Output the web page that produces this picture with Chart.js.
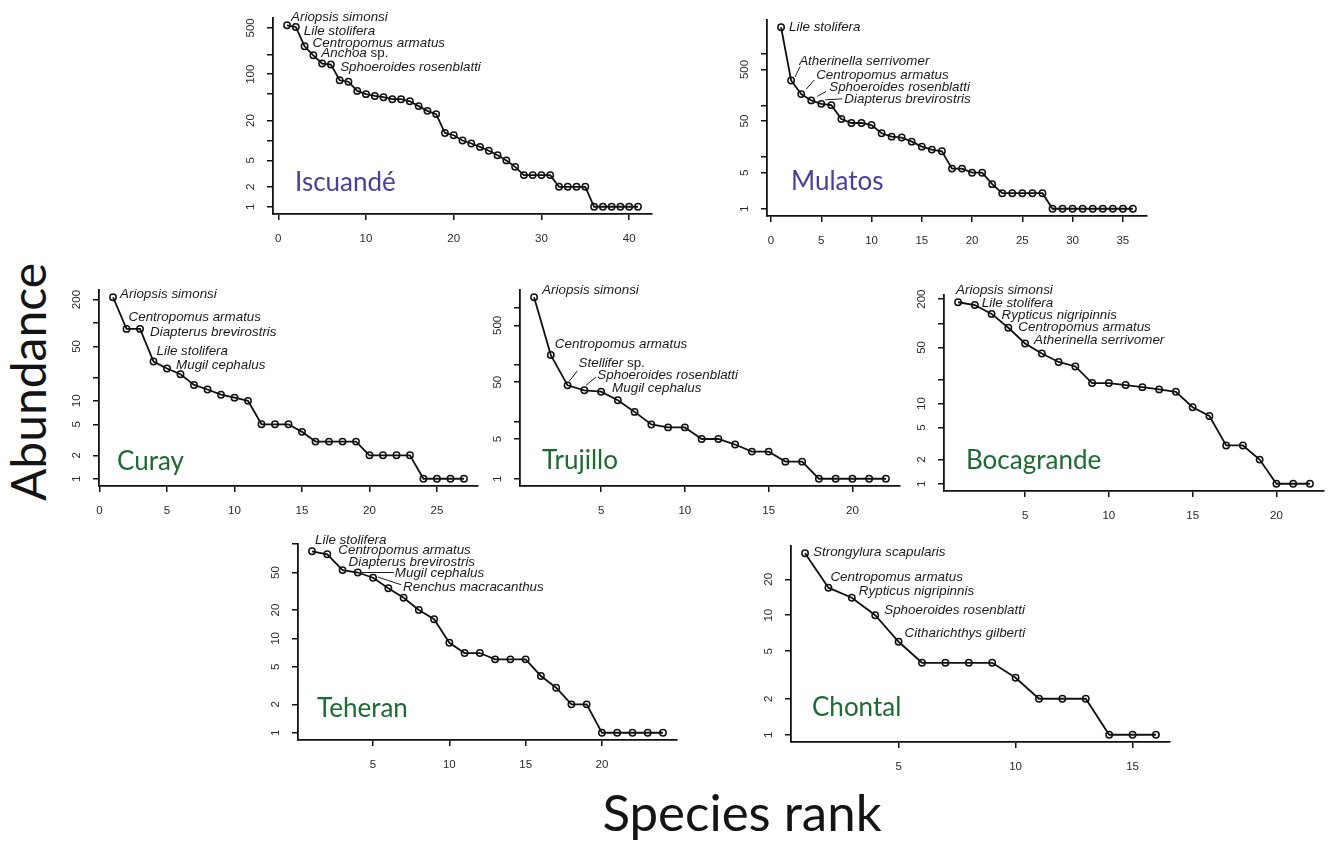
<!DOCTYPE html>
<html>
<head>
<meta charset="utf-8">
<script src="https://cdn.jsdelivr.net/npm/chart.js@4.4.1/dist/chart.umd.min.js"></script>
<style>
  html, body { margin: 0; padding: 0; background: #fff; }
  body { width: 1328px; height: 841px; position: relative; overflow: hidden; }
  canvas { position: absolute; }
  .big { position: absolute; font-family: Lato, "Open Sans", sans-serif; color: #141414; line-height: 1; white-space: nowrap; }
  #ylab { left: 28px; top: 382px; transform: translate(-50%, -50%) rotate(-90deg); }
  #xlab { left: 742px; top: 786px; transform: translateX(-50%); }
</style>
</head>
<body>
<div id="ylab" class="big">Abundance</div>
<div id="xlab" class="big">Species rank</div>
<script>
// ---------------- DATA ----------------
const siteNames = ['Iscuandé', 'Mulatos', 'Curay', 'Trujillo', 'Bocagrande', 'Teheran', 'Chontal'];

const iscuandeValues = [548,517,264,193,145,140,81,77,56,50,47,45,42,42,39,33,28,25,13,12,10,9,8,7,6,5,4,3,3,3,3,2,2,2,2,1,1,1,1,1,1];
const mulatosValues = [3300,307,167,126,108,102,55,46,46,42,29,25,24,20,16,14,13,6,6,5,5,3,2,2,2,2,2,1,1,1,1,1,1,1,1,1];
const curayValues = [214,84,84,32,26,22,16,14,12,11,10,5,5,5,4,3,3,3,3,2,2,2,2,1,1,1,1];
const trujilloValues = [1560,150,44,36,34,24,15,9,8,8,5,5,4,3,3,2,2,1,1,1,1,1];
const bocagrandeValues = [183,169,131,88,56,42,33,29,18,18,17,16,15,14,9,7,3,3,2,1,1,1];
const teheranValues = [84,78,53,50,44,34,27,20,16,9,7,7,6,6,6,4,3,2,2,1,1,1,1,1];
const chontalValues = [33,17,14,10,6,4,4,4,4,3,2,2,2,1,1,1];

const iscuandeSpecies = ['Ariopsis simonsi','Lile stolifera','Centropomus armatus','Anchoa sp.','Sphoeroides rosenblatti'];
const mulatosSpecies = ['Lile stolifera','Atherinella serrivomer','Centropomus armatus','Sphoeroides rosenblatti','Diapterus brevirostris'];
const curaySpecies = ['Ariopsis simonsi','Centropomus armatus','Diapterus brevirostris','Lile stolifera','Mugil cephalus'];
const trujilloSpecies = ['Ariopsis simonsi','Centropomus armatus','Stellifer sp.','Sphoeroides rosenblatti','Mugil cephalus'];
const bocagrandeSpecies = ['Ariopsis simonsi','Lile stolifera','Rypticus nigripinnis','Centropomus armatus','Atherinella serrivomer'];
const teheranSpecies = ['Lile stolifera','Centropomus armatus','Diapterus brevirostris','Mugil cephalus','Renchus macracanthus'];
const chontalSpecies = ['Strongylura scapularis','Centropomus armatus','Rypticus nigripinnis','Sphoeroides rosenblatti','Citharichthys gilberti'];

const iscuandeYTicks = [1,2,5,10,20,50,100,200,500];
const iscuandeYLabels = [1,2,5,20,100,500];
const mulatosYTicks = [1,5,10,50,100,500,1000];
const mulatosYLabels = [1,5,50,500];
const curayYTicks = [1,2,5,10,20,50,100,200];
const curayYLabels = [1,2,5,10,50,200];
const trujilloYTicks = [1,5,10,50,100,500,1000];
const trujilloYLabels = [1,5,50,500];
const bocagrandeYTicks = [1,2,5,10,20,50,100,200];
const bocagrandeYLabels = [1,2,5,10,50,200];
const teheranYTicks = [1,2,5,10,20,50,100];
const teheranYLabels = [1,2,5,10,20,50];
const chontalYTicks = [1,2,5,10,20];
const chontalYLabels = [1,2,5,10,20];

const iscuandeXTicks = [0,10,20,30,40];
const mulatosXTicks = [0,5,10,15,20,25,30,35];
const curayXTicks = [0,5,10,15,20,25];
const trujilloXTicks = [5,10,15,20];
const bocagrandeXTicks = [5,10,15,20];
const teheranXTicks = [5,10,15,20];
const chontalXTicks = [5,10,15];

// ---------------- STYLE / LAYOUT ----------------
const PURPLE = '#4a4099';
const GREEN = '#1d6a33';

const panels = [
  { name: siteNames[0], color: PURPLE, values: iscuandeValues, species: iscuandeSpecies, yTicks: iscuandeYTicks, yLabels: iscuandeYLabels, xTicks: iscuandeXTicks },
  { name: siteNames[1], color: PURPLE, values: mulatosValues, species: mulatosSpecies, yTicks: mulatosYTicks, yLabels: mulatosYLabels, xTicks: mulatosXTicks },
  { name: siteNames[2], color: GREEN, values: curayValues, species: curaySpecies, yTicks: curayYTicks, yLabels: curayYLabels, xTicks: curayXTicks },
  { name: siteNames[3], color: GREEN, values: trujilloValues, species: trujilloSpecies, yTicks: trujilloYTicks, yLabels: trujilloYLabels, xTicks: trujilloXTicks },
  { name: siteNames[4], color: GREEN, values: bocagrandeValues, species: bocagrandeSpecies, yTicks: bocagrandeYTicks, yLabels: bocagrandeYLabels, xTicks: bocagrandeXTicks },
  { name: siteNames[5], color: GREEN, values: teheranValues, species: teheranSpecies, yTicks: teheranYTicks, yLabels: teheranYLabels, xTicks: teheranXTicks },
  { name: siteNames[6], color: GREEN, values: chontalValues, species: chontalSpecies, yTicks: chontalYTicks, yLabels: chontalYLabels, xTicks: chontalXTicks }
];

// plot rectangles [left, top, right, bottom], name offset [dx from left, dy from bottom],
// note offsets per labelled species: [dx, dy] from its point, optional leader [x1,y1,x2,y2] relative to point
const layouts = [
  { rect: [273, 18, 652, 214], nameOff: [22, -23],
    notes: [{d:[4,-8]}, {d:[8,4]}, {d:[8,-3]}, {d:[8,-2]}, {d:[18,4]}] },
  { rect: [767, 20, 1147, 216], nameOff: [24, -26],
    notes: [{d:[8,0]}, {d:[8,-19], l:[4,-3.5,9,-14]}, {d:[15,-19], l:[5,-5,13,-14]}, {d:[18,-13], l:[6,-4,15,-9]}, {d:[23,-5], l:[4,-4,21,-5]}] },
  { rect: [98.5, 290, 477.5, 485.5], nameOff: [18, -16],
    notes: [{d:[7,-3]}, {d:[2,-12]}, {d:[10,3]}, {d:[3,-10]}, {d:[9,-3]}] },
  { rect: [520, 290, 900, 485.5], nameOff: [22, -17],
    notes: [{d:[8,-7]}, {d:[4,-11]}, {d:[11,-22], l:[1.6,-4,9.6,-14.3]}, {d:[13,-15], l:[1.7,-5,11.7,-13.3]}, {d:[11,-3]}] },
  { rect: [943.5, 295, 1323, 490.5], nameOff: [22, -22],
    notes: [{d:[-2,-12]}, {d:[7,-2]}, {d:[10,1]}, {d:[10,0]}, {d:[9,-3]}] },
  { rect: [297.5, 543.5, 676, 739], nameOff: [19, -23],
    notes: [{d:[3,-11]}, {d:[11,-4]}, {d:[6,-8]}, {d:[37,1], l:[4,0,36,0]}, {d:[30,10], l:[5,-0.6,28,7]}] },
  { rect: [790.5, 546, 1169.5, 741.5], nameOff: [21, -26],
    notes: [{d:[8,-1]}, {d:[2,-10]}, {d:[7,-6]}, {d:[9,-5]}, {d:[6,-8]}] }
];

const TICK_FONT = '"Liberation Sans", Arial, sans-serif';
const NOTE_FONT = '13.4px "Liberation Sans", Arial, sans-serif';
const NAME_FONT = '26px Lato, "Open Sans", sans-serif';

function drawNote(ctx, text, x, y) {
  ctx.textAlign = 'left';
  ctx.textBaseline = 'middle';
  const m = text.match(/^(.*?)( sp\.)$/);
  if (m) {
    ctx.font = 'italic ' + NOTE_FONT;
    ctx.fillText(m[1], x, y);
    const w = ctx.measureText(m[1]).width;
    ctx.font = NOTE_FONT;
    ctx.fillText(m[2], x + w, y);
  } else {
    ctx.font = 'italic ' + NOTE_FONT;
    ctx.fillText(text, x, y);
  }
}

function makeChart(p, L) {
  const [l, t, r, b] = L.rect;
  const padL = 50, padT = 22, padR = 8, padB = 34;
  const pw = Math.round(r - l), ph = Math.round(b - t);
  const w = pw + padL + padR, h = ph + padT + padB;
  const cv = document.createElement('canvas');
  cv.width = w; cv.height = h;
  cv.style.width = w + 'px'; cv.style.height = h + 'px';
  cv.style.left = (Math.round(l) - padL) + 'px';
  cv.style.top = (Math.round(t) - padT) + 'px';
  document.body.appendChild(cv);

  const n = p.values.length;
  const lg = Math.log10(Math.max(...p.values));

  const overlay = {
    id: 'overlay',
    afterDraw(chart) {
      const ctx = chart.ctx;
      const area = chart.chartArea;
      const ys = chart.scales.y;
      ctx.save();
      // y tick labels (rotated, R style)
      ctx.fillStyle = '#2a2a2a';
      ctx.font = '11.5px ' + TICK_FONT;
      ctx.textAlign = 'center';
      ctx.textBaseline = 'middle';
      p.yLabels.forEach(v => {
        const y = ys.getPixelForValue(v);
        ctx.save();
        ctx.translate(area.left - 22, y);
        ctx.rotate(-Math.PI / 2);
        ctx.fillText(String(v), 0, 0);
        ctx.restore();
      });
      // species notes
      const pts = chart.getDatasetMeta(0).data;
      ctx.fillStyle = '#1a1a1a';
      ctx.strokeStyle = '#1a1a1a';
      ctx.lineWidth = 1;
      p.species.forEach((s, i) => {
        const pt = pts[i];
        const nt = L.notes[i];
        if (nt.l) {
          ctx.beginPath();
          ctx.moveTo(pt.x + nt.l[0], pt.y + nt.l[1]);
          ctx.lineTo(pt.x + nt.l[2], pt.y + nt.l[3]);
          ctx.stroke();
        }
        drawNote(ctx, s, pt.x + nt.d[0], pt.y + nt.d[1]);
      });
      // site name
      ctx.fillStyle = p.color;
      ctx.font = NAME_FONT;
      ctx.textAlign = 'left';
      ctx.textBaseline = 'alphabetic';
      ctx.fillText(p.name, area.left + L.nameOff[0], area.bottom + L.nameOff[1]);
      ctx.restore();
    }
  };

  new Chart(cv, {
    type: 'line',
    data: {
      datasets: [{
        data: p.values.map((v, i) => ({ x: i + 1, y: v })),
        borderColor: '#111',
        borderWidth: 1.8,
        pointRadius: 3.2,
        pointBorderWidth: 1.5,
        pointBorderColor: '#111',
        pointBackgroundColor: 'rgba(0,0,0,0)',
        pointHoverRadius: 3.2,
        tension: 0,
        fill: false,
        clip: false
      }]
    },
    options: {
      responsive: false,
      animation: false,
      devicePixelRatio: 1,
      events: [],
      layout: { padding: { left: 0, top: padT, right: padR, bottom: 0 } },
      plugins: { legend: { display: false }, tooltip: { enabled: false } },
      scales: {
        x: {
          type: 'linear',
          bounds: 'data',
          min: 1 - 0.04 * (n - 1),
          max: n + 0.04 * (n - 1),
          afterBuildTicks: s => { s.ticks = p.xTicks.map(v => ({ value: v })); },
          afterFit: s => { s.height = padB; },
          ticks: { autoSkip: false, maxRotation: 0, minRotation: 0, padding: 12, color: '#2a2a2a',
                   font: { family: TICK_FONT, size: 11.5 }, callback: v => String(v) },
          grid: { drawOnChartArea: false, drawTicks: true, tickLength: 6, color: '#111', lineWidth: 1.5 },
          border: { display: true, color: '#111', width: 1.8 }
        },
        y: {
          type: 'logarithmic',
          bounds: 'data',
          min: Math.pow(10, -0.04 * lg),
          max: Math.pow(10, 1.04 * lg),
          afterBuildTicks: s => { s.ticks = p.yTicks.map(v => ({ value: v })); },
          afterFit: s => { s.width = padL; },
          ticks: { autoSkip: false, padding: 0, callback: () => '' , font: { size: 11 } },
          grid: { drawOnChartArea: false, drawTicks: true, tickLength: 6, color: '#111', lineWidth: 1.5 },
          border: { display: true, color: '#111', width: 1.8 }
        }
      }
    },
    plugins: [overlay]
  });
}

panels.forEach((p, i) => makeChart(p, layouts[i]));

// fit the big axis titles to their widths in the reference
function fitText(id, target) {
  const el = document.getElementById(id);
  const c = document.createElement('canvas').getContext('2d');
  c.font = '100px Lato';
  const wd = c.measureText(el.textContent).width;
  el.style.fontSize = (100 * target / wd).toFixed(1) + 'px';
}
fitText('ylab', 238);
fitText('xlab', 279);
</script>
</body>
</html>
